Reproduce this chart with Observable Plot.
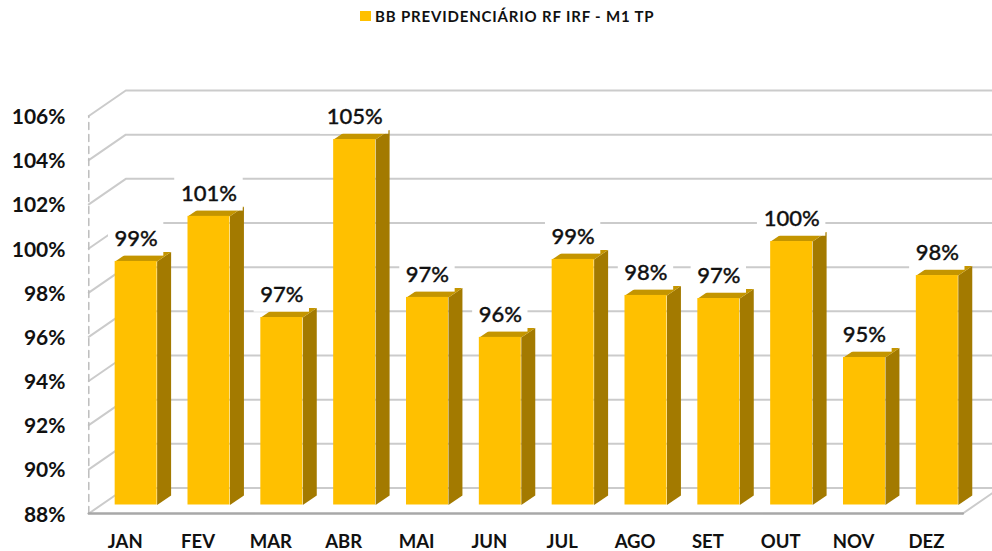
<!DOCTYPE html>
<html><head><meta charset="utf-8">
<script src="https://cdn.jsdelivr.net/npm/d3@7"></script>
<script src="https://cdn.jsdelivr.net/npm/@observablehq/plot@0.6"></script>
<style>
html,body{margin:0;padding:0;background:#fff;overflow:hidden;width:992px;height:551px}
#legend{height:32px;box-sizing:border-box;padding:8px 0 0 360px;font:bold 15px "Lato",sans-serif;letter-spacing:.83px;color:#111;display:flex;align-items:flex-start;line-height:16px;white-space:nowrap}
#legend i{display:inline-block;width:11px;height:10px;margin:3px 4px 0 0}
svg{display:block}
</style></head><body>
<div id="legend"></div>
<div id="chart"></div>
<script>
const months = ["JAN","FEV","MAR","ABR","MAI","JUN","JUL","AGO","SET","OUT","NOV","DEZ"];
const values = [99.03,101.07,96.49,104.55,97.40,95.59,99.12,97.49,97.35,99.93,94.68,98.39];
const labels = ["99%","101%","97%","105%","97%","96%","99%","98%","97%","100%","95%","98%"];
const yTicks = [88,90,92,94,96,98,100,102,104,106];
const seriesName = "BB PREVIDENCIÁRIO RF IRF - M1 TP";
const colFront = "#FFC000", colSide = "#A37A00", colTop = "#C49500", colGrid = "#CBCBCB", colFloor = "#A8A8A8";
const font = "Lato, sans-serif";

// projection of the chart's 3D box, in data units
const wallX = 0.508, wallY = 1.155;     // depth of the box
const barOffX = 0.15, barOffY = 0.385;  // bar front plane inside the box
const sideX = 0.192, sideY = 0.43;      // depth of a bar
const halfW = 0.288;
const base = 88;

const first = -0.5, last = months.length - 0.5;

const gridRows = yTicks.flatMap(t => [
  {id:t, x:first, y:t},
  {id:t, x:first+wallX, y:t+wallY},
  {id:t, x:last+wallX, y:t+wallY}
]);
const floorRight = [{x:last,y:base},{x:last+wallX,y:base+wallY}];
const floorFront = [{x:first,y:base},{x:last,y:base}];
const wallEdge = [{x:first,y:base},{x:first,y:yTicks[yTicks.length-1]}];

const bars = months.map((m,i)=>({
  i, m, v:values[i], label:labels[i],
  x1:i+barOffX-halfW, x2:i+barOffX+halfW,
  yb:base+barOffY, yt:values[i]+barOffY
}));
const sideRows = bars.flatMap(b => [
  {id:b.i,x:b.x2,y:b.yb},{id:b.i,x:b.x2+sideX,y:b.yb+sideY},
  {id:b.i,x:b.x2+sideX,y:b.yt+sideY},{id:b.i,x:b.x2,y:b.yt}
]);
const topRows = bars.flatMap(b => [
  {id:b.i,x:b.x1,y:b.yt},{id:b.i,x:b.x2,y:b.yt},
  {id:b.i,x:b.x2+sideX,y:b.yt+sideY},{id:b.i,x:b.x1+sideX,y:b.yt+sideY}
]);
const boxes = bars.map(b => {
  const hw = b.label.length > 3 ? 0.47 : 0.38;
  const c = b.i + barOffX;
  return {x1:c-hw, x2:c+hw, y1:b.yt+0.24, y2:b.yt+1.77};
});

const legend = document.getElementById("legend");
legend.innerHTML = `<i style="background:${colFront}"></i><span>${seriesName}</span>`;

const svgTop = 32;
const plot = Plot.plot({
  width: 992, height: 519,
  marginLeft: 88, marginRight: 0, marginTop: 0, marginBottom: 38,
  style: {background:"transparent", overflow:"hidden"},
  x: {type:"linear", domain:[first,last], range:[88.3,962.3]},
  y: {type:"linear", domain:[88,106], range:[513-svgTop,115.5-svgTop]},
  marks: [
    Plot.line(gridRows,{x:"x",y:"y",z:"id",stroke:colGrid,strokeWidth:2}),
    Plot.line(floorRight,{x:"x",y:"y",stroke:colGrid,strokeWidth:2}),
    Plot.line(wallEdge,{x:"x",y:"y",stroke:"#BDBDBD",strokeWidth:1.5,strokeDasharray:"7 5"}),
    Plot.line(floorFront,{x:"x",y:"y",stroke:colFloor,strokeWidth:2.5}),
    Plot.line(sideRows,{x:"x",y:"y",z:"id",fill:colSide,stroke:"none"}),
    Plot.line(topRows,{x:"x",y:"y",z:"id",fill:colTop,stroke:"none"}),
    Plot.rect(bars,{x1:"x1",x2:"x2",y1:"yb",y2:"yt",fill:colFront}),
    Plot.rect(boxes,{x1:"x1",x2:"x2",y1:"y1",y2:"y2",fill:"white"}),
    Plot.text(bars,{x:d=>d.i+barOffX,y:d=>d.yt+1.01,text:"label",fontSize:22,fontFamily:font,fontWeight:500,stroke:"#111",strokeWidth:0.35,fill:"#111"}),
    Plot.axisY({ticks:yTicks,tickSize:0,tickPadding:23,tickFormat:d=>d+"%",label:null,fontSize:21,fontFamily:font,fontWeight:700,fill:"#111",dy:1.3}),
    Plot.axisX({ticks:months.map((_,i)=>i),tickSize:0,tickPadding:21,tickFormat:i=>months[i],label:null,fontSize:18.5,fontFamily:font,fontWeight:700,fill:"#111"})
  ]
});
document.getElementById("chart").appendChild(plot);
</script>
</body></html>
